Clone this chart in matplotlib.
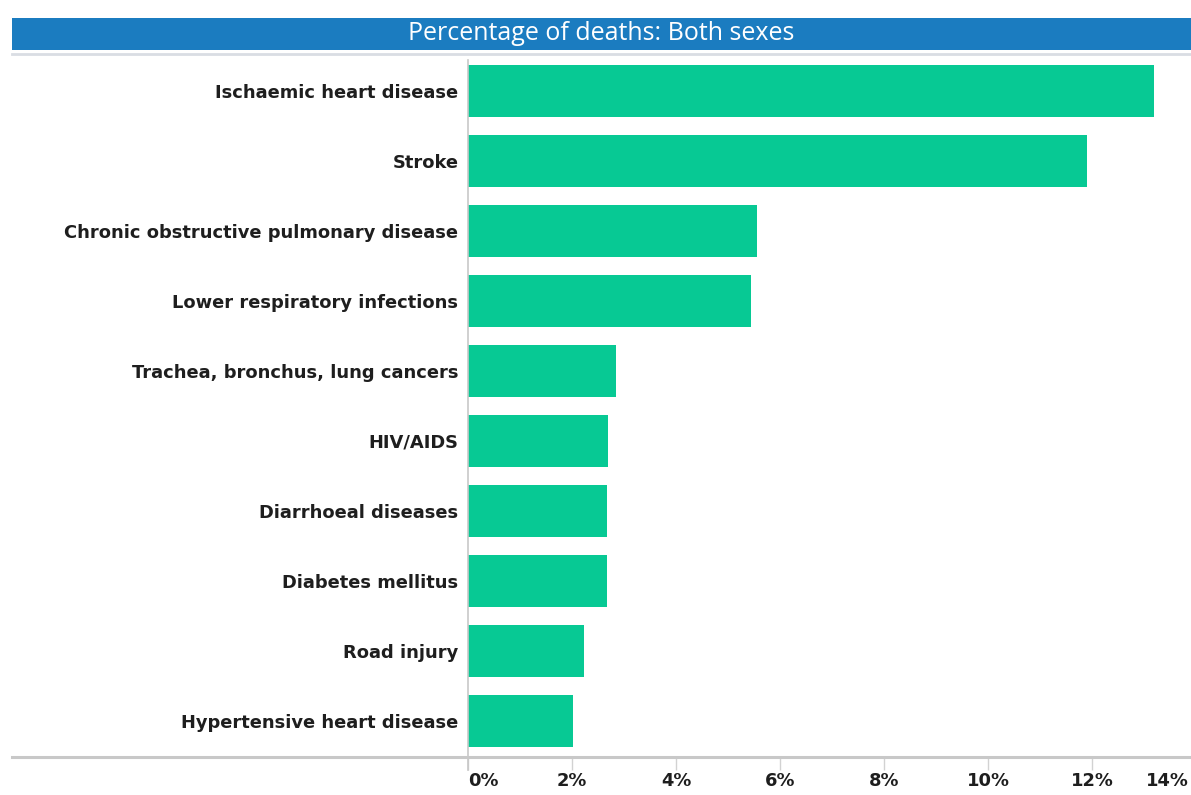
import matplotlib
matplotlib.use("Agg")
import matplotlib.pyplot as plt
import matplotlib.transforms as mtransforms
from matplotlib.lines import Line2D
from matplotlib.patches import Rectangle

causes = [
    "Ischaemic heart disease",
    "Stroke",
    "Chronic obstructive pulmonary disease",
    "Lower respiratory infections",
    "Trachea, bronchus, lung cancers",
    "HIV/AIDS",
    "Diarrhoeal diseases",
    "Diabetes mellitus",
    "Road injury",
    "Hypertensive heart disease",
]
pct_deaths = [13.2, 11.9, 5.55, 5.45, 2.85, 2.7, 2.67, 2.67, 2.23, 2.02]
tick_values = [0, 2, 4, 6, 8, 10, 12, 14]
tick_labels = ["0%", "2%", "4%", "6%", "8%", "10%", "12%", "14%"]
title = "Percentage of deaths: Both sexes"

W, H = 1191, 795
fig = plt.figure(figsize=(W / 100, H / 100), dpi=100)
fig.patch.set_facecolor("white")

# plot area in pixel terms
x0, px_per_pct = 468, 52.0
y_top, y_bot = 55, 757
ax = fig.add_axes([x0 / W, 1 - y_bot / H, (14 * px_per_pct) / W, (y_bot - y_top) / H])
ax.set_xlim(0, 14)
ax.set_ylim(len(causes) - 0.5 + 0.02, -0.5 - 0.02)

ypos = list(range(len(causes)))
ax.barh(ypos, pct_deaths, height=0.74, color="#07c994", zorder=2)

for s in ["top", "right", "bottom", "left"]:
    ax.spines[s].set_visible(False)

ax.set_yticks(ypos)
ax.set_yticklabels(causes, fontsize=12.9, fontweight="bold", color="#1e1e1e",
                   fontfamily="DejaVu Sans")
ax.tick_params(axis="y", length=0, pad=7)

ax.set_xticks(tick_values)
ax.set_xticklabels(tick_labels, fontsize=12.9, fontweight="bold", color="#1e1e1e",
                   fontfamily="DejaVu Sans")
ax.tick_params(axis="x", length=9, width=1, color="#d2d2d2", pad=2)
labels = ax.get_xticklabels()
labels[0].set_horizontalalignment("left")
labels[-1].set_horizontalalignment("right")
labels[-1].set_transform(labels[-1].get_transform() +
                         mtransforms.ScaledTranslation(-7 / 100, 0, fig.dpi_scale_trans))

# baseline across the whole width and vertical zero line
fig.add_artist(Line2D([12 / W, 1.0], [1 - y_bot / H] * 2, color="#c8c8c8", lw=2.2))
fig.add_artist(Line2D([x0 / W] * 2, [1 - 60 / H, 1 - 770 / H], color="#c8c8c8", lw=1.2,
                      zorder=1))
fig.add_artist(Line2D([12 / W, 1.0], [1 - 54 / H] * 2, color="#d9dde3", lw=2))

# title banner
fig.add_artist(Rectangle((12 / W, 1 - 50 / H), 1 - 12 / W, 32 / H,
                         transform=fig.transFigure, facecolor="#1b7cc0",
                         edgecolor="none"))
fig.text((12 + W) / 2 / W, 1 - 34 / H, title, color="white", fontsize=18,
         ha="center", va="center", fontfamily="Open Sans")

fig.savefig("out.png", dpi=100)
